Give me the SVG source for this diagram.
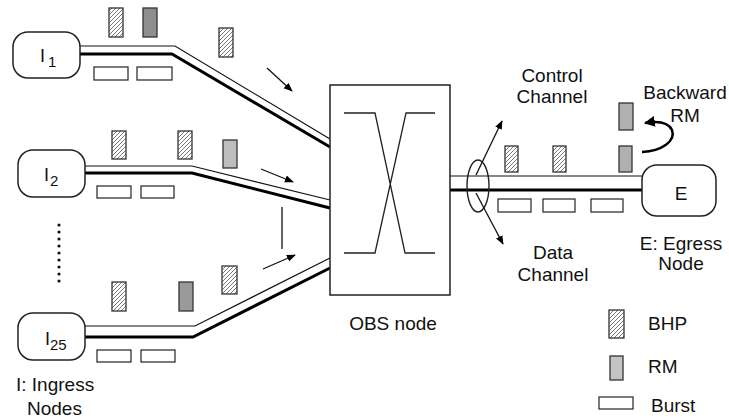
<svg xmlns="http://www.w3.org/2000/svg" width="729" height="418" viewBox="0 0 729 418">
<defs>
<pattern id="hatch" patternUnits="userSpaceOnUse" width="4" height="4">
<path d="M-1,1 l2,-2 M0,4 l4,-4 M3,5 l2,-2" stroke="#555" stroke-width="0.8"/>
</pattern>
<marker id="ah" viewBox="0 0 10 10" refX="9" refY="5" markerWidth="9" markerHeight="9" markerUnits="userSpaceOnUse" orient="auto">
<path d="M0,1 L10,5 L0,9 Z" fill="#000"/>
</marker>
<marker id="ah2" viewBox="0 0 10 10" refX="9" refY="5" markerWidth="11" markerHeight="11" markerUnits="userSpaceOnUse" orient="auto">
<path d="M0,0 L10,5 L0,10 Z" fill="#000"/>
</marker>
</defs>
<style>
.node{fill:#fff;stroke:#222;stroke-width:1.5}
.thin{fill:none;stroke:#111;stroke-width:1.2}
.thick{fill:none;stroke:#000;stroke-width:3}
.bhp{fill:url(#hatch);stroke:#333;stroke-width:1.3}
.rm{fill:#bdbdbd;stroke:#333;stroke-width:1.3}
.rmd{fill:#8e8e8e;stroke:#333;stroke-width:1.3}
.burst{fill:#fff;stroke:#333;stroke-width:1.3}
.arr{fill:none;stroke:#111;stroke-width:1.3}
text{font-family:"Liberation Sans",Arial,sans-serif;font-size:19px;fill:#111}
.lbl{font-size:18px}
.sub{font-size:15px}
</style>

<g id="connectors">
<path class="thin" d="M80,46 H175 L330,139"/>
<path class="thick" d="M80,54 H172 L330,147"/>
<path class="thin" d="M85,166 H192 L330,200"/>
<path class="thick" d="M85,173 H192 L330,208"/>
<path class="thin" d="M85,326 H195 L330,258"/>
<path class="thick" d="M85,337 H193 L330,268"/>
<path class="thin" d="M450,176 H642"/>
<path class="thick" d="M450,190 H642"/>
<line class="arr" x1="267" y1="68" x2="292" y2="91" marker-end="url(#ah)"/>
<line class="arr" x1="261" y1="169" x2="293" y2="182" marker-end="url(#ah)"/>
<line class="arr" x1="282" y1="207" x2="282" y2="249"/>
<line class="arr" x1="263" y1="269" x2="295" y2="255" marker-end="url(#ah)"/>
<ellipse cx="478" cy="186" rx="11" ry="26" fill="none" stroke="#222" stroke-width="1.4"/>
<line class="arr" x1="476" y1="175" x2="502" y2="121" marker-end="url(#ah)"/>
<line class="arr" x1="476" y1="193" x2="503" y2="244" marker-end="url(#ah)"/>
<path d="M642,152 C662,151 676,141 672,130 C668,122 657,121 645,123" fill="none" stroke="#000" stroke-width="2.5" marker-end="url(#ah2)"/>
</g>

<g id="packets">
<rect class="bhp" x="109" y="8" width="14" height="29"/>
<rect class="rmd" x="143" y="8" width="14" height="29"/>
<rect class="bhp" x="219" y="28" width="14" height="29"/>
<rect class="burst" x="94" y="67" width="34" height="13"/>
<rect class="burst" x="137" y="67" width="35" height="13"/>

<rect class="bhp" x="112" y="131" width="14" height="28"/>
<rect class="bhp" x="178" y="131" width="14" height="28"/>
<rect class="rm" x="223" y="140" width="14" height="28"/>
<rect class="burst" x="97" y="186" width="34" height="12"/>
<rect class="burst" x="141" y="186" width="33" height="12"/>

<rect class="bhp" x="112" y="282" width="14" height="29"/>
<rect class="rmd" x="179" y="282" width="14" height="29" style="fill:#9a9a9a"/>
<rect class="bhp" x="222" y="266" width="15" height="28"/>
<rect class="burst" x="97" y="350" width="34" height="12"/>
<rect class="burst" x="141" y="350" width="34" height="12"/>

<rect class="bhp" x="505" y="146" width="13" height="26"/>
<rect class="bhp" x="553" y="146" width="13" height="26"/>
<rect class="rm" x="619" y="146" width="13" height="26" style="fill:#b0b0b0"/>
<rect class="rm" x="619" y="103" width="14" height="27" style="fill:#b0b0b0"/>
<rect class="burst" x="498" y="199" width="33" height="13"/>
<rect class="burst" x="543" y="199" width="32" height="13"/>
<rect class="burst" x="591" y="199" width="32" height="13"/>
</g>

<g id="I1">
<rect class="node" x="13" y="32" width="67" height="46" rx="15"/>
<text class="lbl" x="40" y="62">I<tspan class="sub" dx="3" dy="5">1</tspan></text>
</g>
<g id="I2">
<rect class="node" x="18" y="150" width="67" height="47" rx="15"/>
<text class="lbl" x="44" y="181">I<tspan class="sub" dx="1" dy="5">2</tspan></text>
</g>
<g id="I25">
<rect class="node" x="18" y="313" width="67" height="47" rx="15"/>
<text class="lbl" x="45" y="345">I<tspan class="sub" dx="0" dy="5">25</tspan></text>
</g>
<g id="dots" fill="#111">
<circle cx="59" cy="225" r="1.6"/><circle cx="59" cy="232" r="1.6"/><circle cx="59" cy="239" r="1.6"/>
<circle cx="59" cy="246" r="1.6"/><circle cx="59" cy="253" r="1.6"/><circle cx="59" cy="260" r="1.6"/>
<circle cx="59" cy="267" r="1.6"/><circle cx="59" cy="274" r="1.6"/><circle cx="59" cy="281" r="1.6"/>
</g>
<g id="OBS">
<rect x="330" y="85" width="120" height="210" fill="#fff" stroke="#222" stroke-width="1.5"/>
<path d="M344,113 H375 L405,253 H435 M435,113 H406 L375,253 H344" fill="none" stroke="#222" stroke-width="1.3"/>
<text x="393" y="330" text-anchor="middle">OBS node</text>
</g>
<g id="E">
<rect class="node" x="642" y="165" width="74" height="51" rx="15"/>
<text x="681" y="200" text-anchor="middle">E</text>
</g>

<g id="labels">
<text x="16" y="391">I: Ingress</text>
<text x="27" y="415">Nodes</text>
<text x="552" y="82" text-anchor="middle">Control</text>
<text x="552" y="103" text-anchor="middle">Channel</text>
<text x="553" y="259" text-anchor="middle">Data</text>
<text x="553" y="281" text-anchor="middle">Channel</text>
<text x="685" y="99" text-anchor="middle">Backward</text>
<text x="685" y="122" text-anchor="middle">RM</text>
<text x="681" y="250" text-anchor="middle">E: Egress</text>
<text x="681" y="270" text-anchor="middle">Node</text>
</g>

<g id="legend">
<rect class="bhp" x="609" y="310" width="15" height="28"/>
<text x="648" y="330">BHP</text>
<rect class="rm" x="610" y="356" width="13" height="24" style="fill:#c4c4c4"/>
<text x="648" y="373">RM</text>
<rect class="burst" x="599" y="397" width="34" height="12"/>
<text x="651" y="412">Burst</text>
</g>
</svg>
